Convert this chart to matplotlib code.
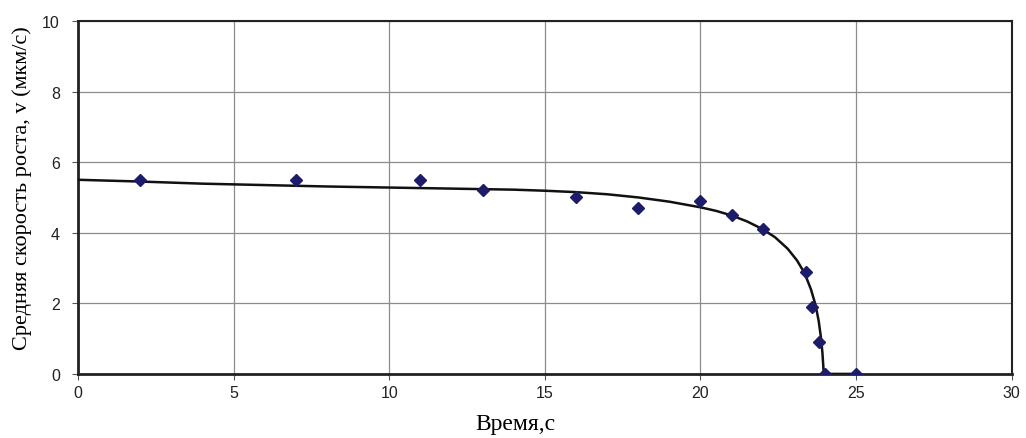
import matplotlib.pyplot as plt

# measured points
t_pts = [2, 7, 11, 13, 16, 18, 20, 21, 22, 23.4, 23.6, 23.8, 24, 25]
v_pts = [5.5, 5.5, 5.5, 5.2, 5.0, 4.7, 4.9, 4.5, 4.1, 2.9, 1.9, 0.9, 0.0, 0.0]

# fitted curve
t_fit = [0, 2, 4, 6, 8, 10, 12, 14, 15, 16, 17, 18, 19, 20, 20.5, 21, 21.5,
         22, 22.4, 22.8, 23.1, 23.35, 23.55, 23.7, 23.8, 23.87, 23.92, 23.95,
         23.96, 25]
v_fit = [5.5, 5.45, 5.39, 5.35, 5.31, 5.28, 5.25, 5.22, 5.19, 5.15, 5.09,
         5.0, 4.88, 4.72, 4.62, 4.49, 4.32, 4.1, 3.87, 3.55, 3.22, 2.85, 2.4,
         1.95, 1.5, 1.05, 0.6, 0.2, 0.0, 0.0]

fig = plt.figure(figsize=(10.26, 4.39), dpi=100)
ax = fig.add_axes([0.076, 0.146, 0.910, 0.804])

ax.plot(t_fit, v_fit, color='#111111', lw=1.8, zorder=3,
        solid_joinstyle='round')
ax.plot(t_pts, v_pts, linestyle='none', marker='D', markersize=6.5,
        color='#1c1c6b', zorder=4)

ax.set_xlim(0, 30)
ax.set_ylim(0, 10)
ax.set_xticks(range(0, 31, 5))
ax.set_yticks(range(0, 11, 2))
ax.grid(True, color='#8c8c8c', lw=0.9)
ax.set_axisbelow(True)

for lab in ax.get_xticklabels() + ax.get_yticklabels():
    lab.set_family('Liberation Sans')
    lab.set_fontsize(11.5)
    lab.set_color('#222222')
ax.tick_params(length=4, width=0.8, color='#555555')
ax.tick_params(axis='x', pad=4)
ax.tick_params(axis='y', pad=9)

for s in ax.spines.values():
    s.set_linewidth(1.5)
    s.set_color('#222222')
ax.spines['left'].set_linewidth(2)
ax.spines['bottom'].set_linewidth(2)

ax.set_xlabel('Время,с', family='Liberation Serif', fontsize=17)
ax.xaxis.set_label_coords(0.468, -0.112)
ax.set_ylabel('Средняя скорость роста, v (мкм/с)', family='Liberation Serif',
              fontsize=16)
ax.yaxis.set_label_coords(-0.049, 0.53)

fig.savefig('out.png', dpi=100)
